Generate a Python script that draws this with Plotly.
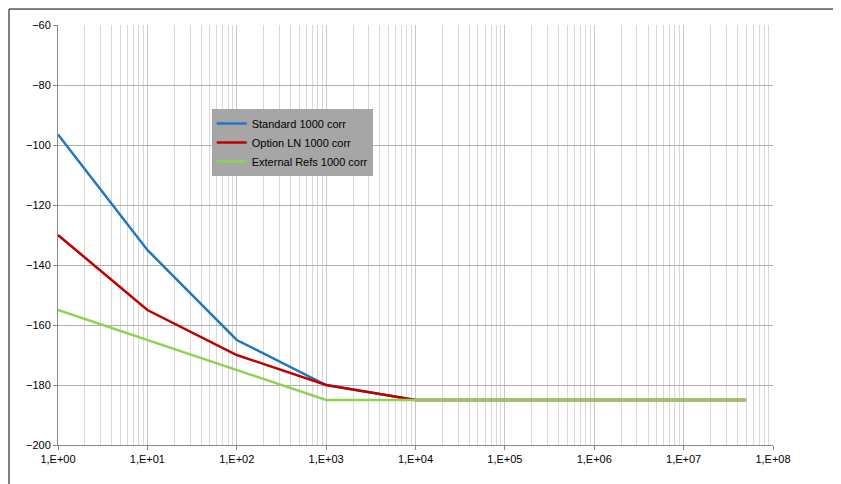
import plotly.graph_objects as go

x_std = [1, 10, 100, 1000, 10000, 5e7]
y_std = [-96.5, -135, -165, -180, -185, -185]
x_opt = [1, 10, 100, 1000, 10000, 5e7]
y_opt = [-130, -155, -170, -180, -185, -185]
x_ext = [1, 10, 100, 1000, 10000, 5e7]
y_ext = [-155, -165, -175, -185, -185, -185]
tickvals = [1, 10, 100, 1e3, 1e4, 1e5, 1e6, 1e7, 1e8]
ticktext = ["1,E+00", "1,E+01", "1,E+02", "1,E+03", "1,E+04", "1,E+05", "1,E+06", "1,E+07", "1,E+08"]

fig = go.Figure()
fig.add_trace(go.Scatter(x=x_std, y=y_std, mode="lines", name="Standard 1000 corr", line=dict(color="#1f77c4", width=2.5)))
fig.add_trace(go.Scatter(x=x_opt, y=y_opt, mode="lines", name="Option LN 1000 corr", line=dict(color="#c00000", width=2.5)))
fig.add_trace(go.Scatter(x=x_ext, y=y_ext, mode="lines", name="External Refs 1000 corr", line=dict(color="#92d050", width=2.5)))

fig.update_layout(
    width=841, height=484, paper_bgcolor="white", plot_bgcolor="white",
    margin=dict(l=50, r=76, t=17, b=47, autoexpand=False),
    font=dict(family="Liberation Sans", size=11, color="black"),
    legend=dict(x=0.215, y=0.8, xanchor="left", yanchor="top", bgcolor="#a6a6a6",
                font=dict(size=11), tracegroupgap=10),
    shapes=[dict(type="rect", xref="paper", yref="paper", x0=-0.0685, x1=1.1035, y0=-0.107, y1=1.038,
                 line=dict(color="black", width=1))],
)
fig.update_xaxes(type="log", range=[0, 8], tickvals=tickvals, ticktext=ticktext, automargin=False,
                 showgrid=True, gridcolor="#c8c8c8", minor=dict(showgrid=True, gridcolor="#d8d8d8", dtick="D1"),
                 showline=True, linecolor="#888", ticks="outside", ticklen=4, tickcolor="#888")
fig.update_yaxes(range=[-200, -60], dtick=20, showgrid=True, gridcolor="#b0b0b0", automargin=False,
                 showline=True, linecolor="#888", ticks="outside", ticklen=4, tickcolor="#888", zeroline=False)
fig.write_html("out.html")
